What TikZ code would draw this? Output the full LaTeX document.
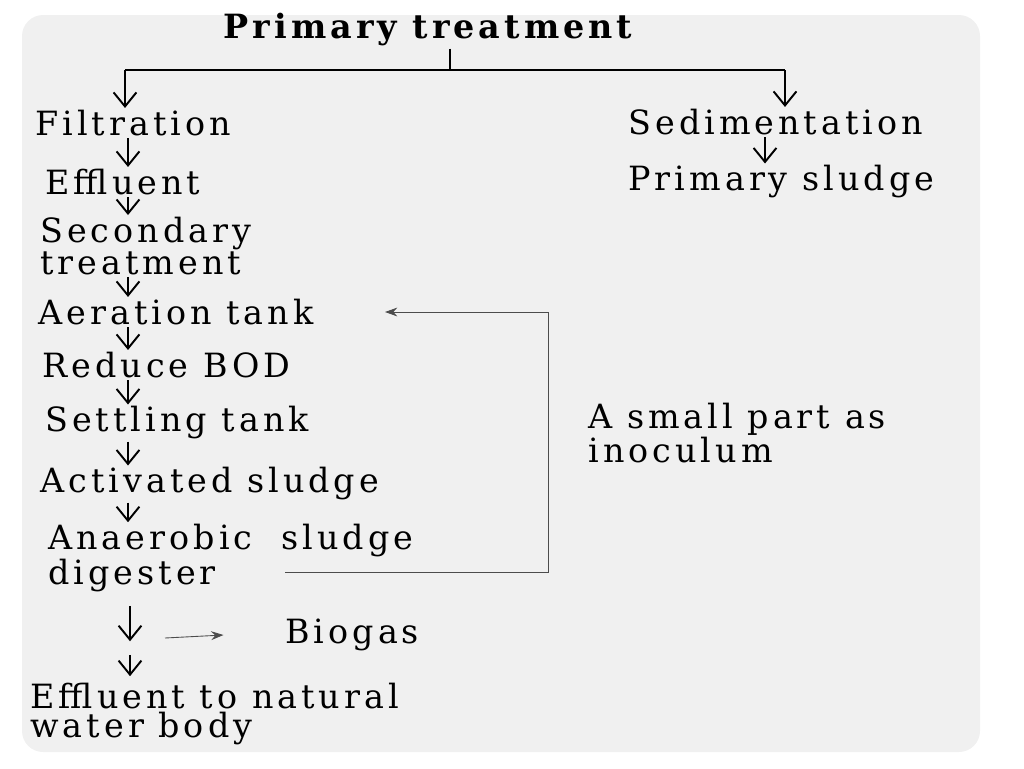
\documentclass[tikz,border=0pt]{standalone}
\usepackage{fontspec}
\setmainfont[LetterSpace=12]{DejaVu Serif}
\usetikzlibrary{arrows.meta}
\begin{document}
\begin{tikzpicture}[x=0.02cm, y=-0.02cm,
    lbl/.style={anchor=west, inner sep=0pt, align=left, font=\fontsize{19}{16}\selectfont},
    arr/.style={-{Straight Barb[length=8pt,width=13pt]}, line width=1.1pt, shorten <=1pt, shorten >=1pt},
    thin arr/.style={-{Stealth[length=7pt,width=5pt]}, line width=0.5pt, black!70}]
    \useasboundingbox (0,0) rectangle (1024,768);
    \fill[black!6, rounded corners=12pt] (22,15) rectangle (980,752);
    % Top branch
    \node[inner sep=1pt, font=\fontsize{19}{16}\selectfont\bfseries] (primary) at (428,30) {Primary treatment};
    \coordinate (split) at (450,70);
    \node[lbl] (filt) at (35,123) {Filtration};
    \node[lbl] (sed) at (628,122) {Sedimentation};
    \draw[line width=1pt] (primary.south -| split) -- (split);
    \draw[line width=1pt] (125,70) -- (785,70);
    \draw[arr, shorten <=0pt] (125,70) -- (filt.north -| 125,0);
    \draw[arr, shorten <=0pt] (785,70) -- (sed.north -| 785,0);
    % Right column
    \node[lbl] (psl) at (628,182) {Primary sludge};
    \draw[arr] (sed.south -| 765,0) -- (psl.north -| 765,0);
    % Left column
    \node[lbl] (eff) at (45,182) {Effluent};
    \node[lbl] (sec) at (40,246) {Secondary\\treatment};
    \node[lbl] (aer) at (38,312) {Aeration tank};
    \node[lbl] (bod) at (42,365) {Reduce BOD};
    \node[lbl] (set) at (45,423) {Settling tank};
    \node[lbl] (act) at (40,484) {Activated sludge};
    \node[lbl] (ana) at (48,558) {Anaerobic\ \ sludge\\digester};
    \coordinate (mid) at (130,638);
    \node[lbl] (bio) at (285,635) {Biogas};
    \node[lbl] (out) at (30,714) {Effluent to\ natural\\water body};
    \draw[arr] (filt.south -| 128,0) -- (eff.north -| 128,0);
    \draw[arr] (eff.south -| 128,0) -- (sec.north -| 128,0);
    \draw[arr] (sec.south -| 128,0) -- (aer.north -| 128,0);
    \draw[arr] (aer.south -| 128,0) -- (bod.north -| 128,0);
    \draw[arr] (bod.south -| 128,0) -- (set.north -| 128,0);
    \draw[arr] (set.south -| 128,0) -- (act.north -| 128,0);
    \draw[arr] (act.south -| 128,0) -- (ana.north -| 128,0);
    \draw[arr] (ana.south -| 130,0) ++(0,12) -- ([yshift=-0.1cm]mid);
    \draw[arr, shorten >=4pt] ([yshift=-0.3cm]mid) -- (out.north -| 130,0);
    \draw[thin arr] (165,638) -- ([xshift=-35pt]bio.west);
    % Return loop
    \node[lbl] (inoc) at (588,433) {A small part as\\inoculum};
    \coordinate (loopb) at (548,572);
    \coordinate (loopt) at (548,312);
    \draw[thin arr] (285,572) -- (loopb) -- (loopt) -- (385,312);
\end{tikzpicture}
\end{document}
